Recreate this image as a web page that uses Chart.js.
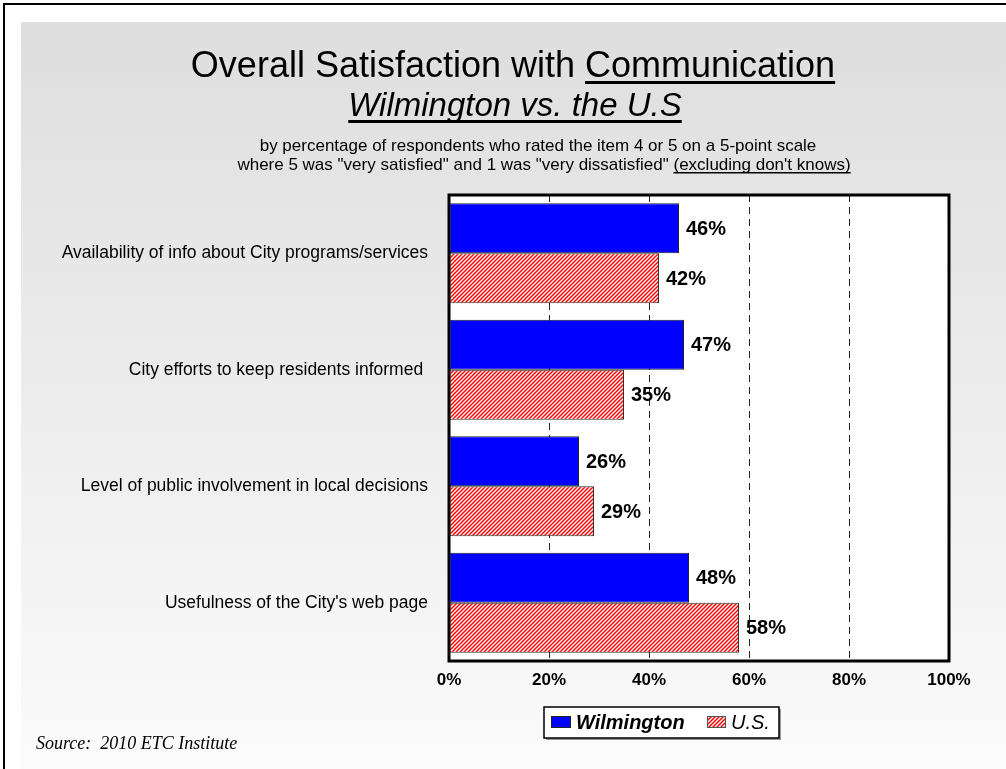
<!DOCTYPE html>
<html>
<head>
<meta charset="utf-8">
<script src="https://cdn.jsdelivr.net/npm/chart.js@4.4.1/dist/chart.umd.min.js"></script>
<style>
  html, body { margin: 0; padding: 0; background: #fff; overflow: hidden; }
  #wrap { position: relative; width: 1006px; height: 769px; }
  #frame { position: absolute; left: 3px; top: 3px; right: 0; bottom: 0; border-left: 2px solid #000; border-top: 2px solid #000; }
  #panel { position: absolute; left: 21px; top: 22px; right: 0; bottom: 0; background: linear-gradient(to bottom, #dedede, #fbfbfb); }
  #chart { position: absolute; left: 0; top: 0; }
</style>
</head>
<body>
<div id="wrap">
  <div id="frame"></div>
  <div id="panel"></div>
  <canvas id="chart" width="1006" height="769"></canvas>
</div>
<script>
// values
const categories = [
  'Availability of info about City programs/services',
  'City efforts to keep residents informed ',
  'Level of public involvement in local decisions',
  "Usefulness of the City's web page"
];
const wilmington = [46, 47, 26, 48];
const usValues = [42, 35, 29, 58];
const xMin = 0, xMax = 100, xStep = 20;

const FONT = '"Liberation Sans", Arial, sans-serif';
Chart.defaults.font.family = FONT;
Chart.defaults.color = '#000';

const canvas = document.getElementById('chart');
const ctx = canvas.getContext('2d');

// red diagonal hatch used for the U.S. bars
function makeHatch() {
  const c = document.createElement('canvas');
  c.width = 4; c.height = 4;
  const g = c.getContext('2d');
  g.fillStyle = '#fff';
  g.fillRect(0, 0, 4, 4);
  g.strokeStyle = '#ff0000';
  g.lineWidth = 1.5;
  g.beginPath();
  g.moveTo(0, 4); g.lineTo(4, 0);
  g.moveTo(-1, 1); g.lineTo(1, -1);
  g.moveTo(3, 5); g.lineTo(5, 3);
  g.stroke();
  return ctx.createPattern(c, 'repeat');
}
const hatch = makeHatch();

// white plot background + thick frame
const plotBox = {
  id: 'plotBox',
  beforeDraw(chart) {
    const a = chart.chartArea, c = chart.ctx;
    c.save();
    c.fillStyle = '#fff';
    c.fillRect(a.left, a.top, a.right - a.left, a.bottom - a.top);
    c.restore();
  },
  afterDatasetsDraw(chart) {
    const a = chart.chartArea, c = chart.ctx;
    c.save();
    c.strokeStyle = '#000';
    c.lineWidth = 3;
    c.strokeRect(a.left, a.top, a.right - a.left, a.bottom - a.top);
    c.restore();
  }
};

// percent labels at bar ends
const barLabels = {
  id: 'barLabels',
  afterDatasetsDraw(chart) {
    const c = chart.ctx;
    c.save();
    c.font = 'bold 20px ' + FONT;
    c.fillStyle = '#000';
    c.textAlign = 'left';
    c.textBaseline = 'middle';
    chart.data.datasets.forEach((ds, i) => {
      chart.getDatasetMeta(i).data.forEach((el, j) => {
        c.fillText(ds.data[j] + '%', el.x + 7, el.y + 1);
      });
    });
    c.restore();
  }
};

// headings, legend and source note
const decorations = {
  id: 'decorations',
  afterDraw(chart) {
    const c = chart.ctx;
    c.save();
    c.fillStyle = '#000';
    c.textBaseline = 'alphabetic';
    c.textAlign = 'left';

    c.font = '36px ' + FONT;
    const a1 = 'Overall Satisfaction with ', b1 = 'Communication';
    const wa = c.measureText(a1).width, wb = c.measureText(b1).width;
    let x = 513 - (wa + wb) / 2;
    c.fillText(a1, x, 77);
    c.fillText(b1, x + wa, 77);
    c.fillRect(x + wa, 81, wb, 3);

    c.font = 'italic 33px ' + FONT;
    const t2 = 'Wilmington vs. the U.S';
    const w2 = c.measureText(t2).width;
    x = 515 - w2 / 2;
    c.fillText(t2, x, 116);
    c.fillRect(x, 120, w2, 3);

    c.font = '17px ' + FONT;
    const s1 = 'by percentage of respondents who rated the item 4 or 5 on a 5-point scale';
    c.fillText(s1, 538 - c.measureText(s1).width / 2, 151);
    const s2a = 'where 5 was "very satisfied" and 1 was "very dissatisfied" ', s2b = "(excluding don't knows)";
    const wsa = c.measureText(s2a).width, wsb = c.measureText(s2b).width;
    x = 544 - (wsa + wsb) / 2;
    c.fillText(s2a, x, 170);
    c.fillText(s2b, x + wsa, 170);
    c.fillRect(x + wsa, 172, wsb, 1.5);

    // legend
    c.fillStyle = '#999';
    c.fillRect(546, 709, 235, 31);
    c.fillStyle = '#fff';
    c.fillRect(544, 707, 235, 31);
    c.strokeStyle = '#000';
    c.lineWidth = 1.5;
    c.strokeRect(544, 707, 235, 31);
    const ds = chart.data.datasets;
    c.lineWidth = 1;
    c.fillStyle = ds[0].backgroundColor;
    c.fillRect(551, 716, 20, 12);
    c.strokeStyle = '#222';
    c.strokeRect(551.5, 716.5, 19, 11);
    c.fillStyle = '#000';
    c.font = 'bold italic 20px ' + FONT;
    c.fillText(ds[0].label, 576, 729);
    c.fillStyle = ds[1].backgroundColor;
    c.fillRect(707, 716, 19, 12);
    c.strokeStyle = '#555';
    c.strokeRect(707.5, 716.5, 18, 11);
    c.fillStyle = '#000';
    c.font = 'italic 20px ' + FONT;
    c.fillText(ds[1].label, 731, 729);

    c.font = 'italic 18px "Liberation Serif", "Times New Roman", serif';
    c.fillText('Source:  2010 ETC Institute', 36, 749);
    c.restore();
  }
};

new Chart(canvas, {
  type: 'bar',
  data: {
    labels: categories,
    datasets: [
      {
        label: 'Wilmington',
        data: wilmington,
        backgroundColor: '#0000ff',
        borderColor: '#222',
        borderWidth: 1,
        borderSkipped: false,
        barPercentage: 1,
        categoryPercentage: 0.86
      },
      {
        label: 'U.S.',
        data: usValues,
        backgroundColor: hatch,
        borderColor: '#333',
        borderWidth: 1,
        borderSkipped: false,
        barPercentage: 1,
        categoryPercentage: 0.86
      }
    ]
  },
  options: {
    indexAxis: 'y',
    responsive: false,
    animation: false,
    layout: { padding: { left: 0, top: 195, right: 57, bottom: 0 } },
    scales: {
      x: {
        min: xMin,
        max: xMax,
        ticks: {
          stepSize: xStep,
          padding: 9,
          font: { size: 17, weight: 'bold' },
          color: '#000',
          callback: v => v + '%'
        },
        grid: { color: '#222', lineWidth: 1, drawTicks: false },
        border: { display: false, dash: [7, 5] },
        afterFit(s) { s.height = 108; }
      },
      y: {
        ticks: { padding: 21, font: { size: 17.5 }, color: '#000' },
        grid: { display: false, drawTicks: false },
        border: { display: false },
        afterFit(s) { s.width = 449; }
      }
    },
    plugins: {
      legend: { display: false },
      tooltip: { enabled: false }
    }
  },
  plugins: [plotBox, barLabels, decorations]
});
</script>
</body>
</html>
